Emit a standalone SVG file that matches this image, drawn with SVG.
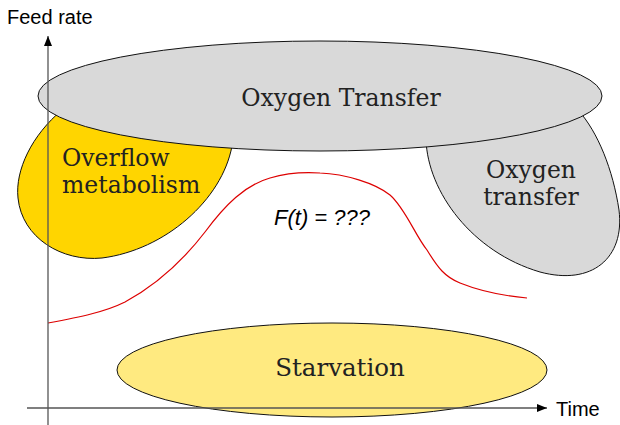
<svg xmlns="http://www.w3.org/2000/svg" width="620" height="425" viewBox="0 0 620 425">
<style>
.blob{stroke:#111;stroke-width:1}
.ser{font-family:"DejaVu Serif","Liberation Serif",serif;fill:#222;font-size:23.5px}
.sans{font-family:"Liberation Sans",Arial,sans-serif;fill:#000}
.axis{stroke:#555;stroke-width:1.3;fill:none}
</style>
<defs>
<marker id="ah" markerWidth="10" markerHeight="8" refX="10" refY="4" orient="auto" markerUnits="userSpaceOnUse">
<path d="M0,0 L10,4 L0,8 Z" fill="#000"/>
</marker>
</defs>
<rect width="620" height="425" fill="#fff"/>
<g id="overflow">
<path class="blob" fill="#FFD500" d="M62,110 C32,135 15,170 18,198 C22,238 62,262 102,258 C165,250 222,200 232,146 L150,120 Z"/>
<text class="ser" x="62" y="166">Overflow</text>
<text class="ser" x="62" y="193">metabolism</text>
</g>
<g id="oxygen-transfer-right">
<path class="blob" fill="#D9D9D9" d="M426,140 C428,192 472,252 540,272 C592,286 625,258 619,210 C613,170 598,132 578,110 Z"/>
<text class="ser" x="531" y="178" text-anchor="middle">Oxygen</text>
<text class="ser" x="531" y="205" text-anchor="middle">transfer</text>
</g>
<g id="oxygen-transfer-top">
<ellipse class="blob" fill="#D9D9D9" cx="320" cy="96" rx="282" ry="55"/>
<text class="ser" x="341" y="106" text-anchor="middle">Oxygen Transfer</text>
</g>
<g id="starvation">
<ellipse class="blob" fill="#FFEA80" cx="332" cy="370" rx="215" ry="47"/>
<text class="ser" x="340" y="376" text-anchor="middle" style="font-size:24.5px">Starvation</text>
</g>
<g id="connectors">
<path d="M48,323 C80,317 105,312 125,302 C160,283 185,258 205,232 C225,205 245,185 270,178 C290,172 305,172 320,173 C345,174 375,183 390,195 C405,208 415,235 427,250 C438,268 445,277 460,283 C480,291 505,296 527,298" fill="none" stroke="#DD0000" stroke-width="1.2"/>
<line class="axis" x1="48" y1="425" x2="48" y2="36" marker-end="url(#ah)"/>
<line class="axis" x1="27" y1="408" x2="547" y2="408" marker-end="url(#ah)"/>
</g>
<g id="labels">
<text class="sans" x="7" y="24" font-size="20">Feed rate</text>
<text class="sans" x="556" y="416" font-size="20">Time</text>
<text class="sans" x="322" y="225" font-size="22" font-style="italic" text-anchor="middle">F(t) = ???</text>
</g>
</svg>
